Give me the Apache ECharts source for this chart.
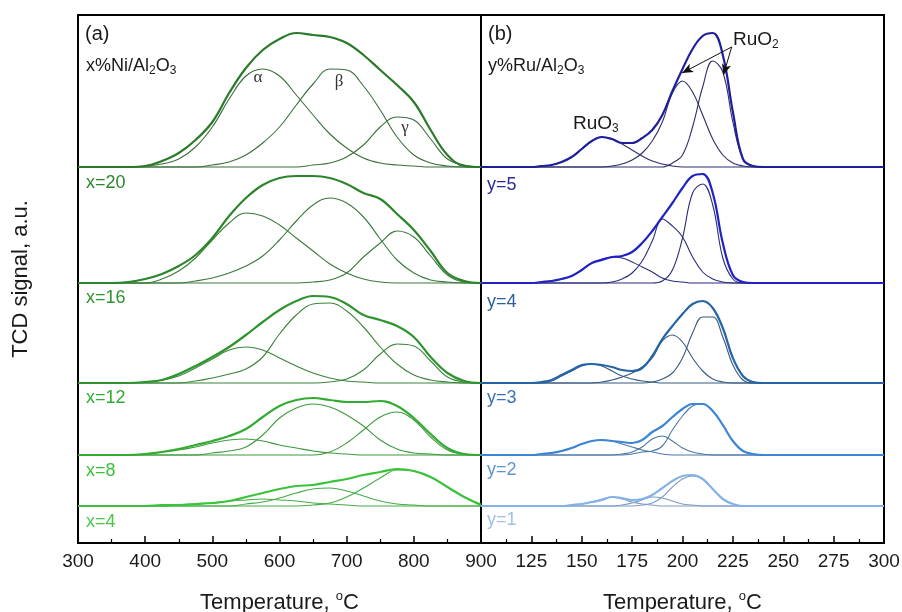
<!DOCTYPE html>
<html>
<head>
<meta charset="utf-8">
<script src="https://cdn.jsdelivr.net/npm/echarts@6/dist/echarts.min.js"></script>
<style>
  html, body { margin: 0; padding: 0; background: #fff; }
  #chart { width: 902px; height: 612px; }
</style>
</head>
<body>
<div id="chart"></div>
<script>
// ---- Temperature grids (°C) on which the TPR traces are tabulated ----
const niTemps = [300, 325, 350, 375, 400, 425, 450, 475, 500, 525, 550, 575, 600, 625, 650, 675, 700, 725, 750, 775, 800, 825, 850, 875, 900];
const ruTemps = [100, 120, 125, 130, 135, 140, 145, 150, 155, 160, 165, 170, 175, 180, 185, 190, 195, 200, 205, 210, 215, 220, 225, 230, 235, 240, 245, 300];

// ---- (a) Ni/Al2O3: measured TCD trace and the alpha / beta / gamma fit peaks (a.u.) ----
const niTopEnv   = [0, 0, 0, 0, 1, 6, 14, 27, 45, 74, 99, 117, 128, 134, 132, 130, 124, 112, 97, 82, 65, 37, 12, 1, 0];
const niTopAlpha = [0, 0, 0, 0, 1, 3, 8, 20, 40, 68, 91, 98, 91, 72, 52, 33, 19, 9, 4, 2, 1, 0, 0, 0, 0];
const niTopBeta  = [0, 0, 0, 0, 0, 0, 0, 0, 2, 5, 12, 24, 40, 62, 83, 98, 97, 81, 57, 30, 12, 4, 1, 0, 0];
const niTopGamma = [0, 0, 0, 0, 0, 0, 0, 0, 0, 0, 0, 0, 0, 0, 2, 4, 10, 22, 40, 50, 47, 28, 8, 2, 0];

const ni20Env   = [0, 0, 0, 1, 4, 9, 17, 28, 45, 67, 85, 98, 105, 107, 107, 105, 99, 90, 84, 69, 53, 32, 10, 2, 0];
const ni20Alpha = [0, 0, 0, 0, 0, 4, 12, 25, 43, 60, 70, 67, 58, 45, 32, 19, 10, 4, 1, 0, 0, 0, 0, 0, 0];
const ni20Beta  = [0, 0, 0, 0, 0, 0, 0, 2, 5, 10, 17, 27, 43, 62, 78, 85, 80, 66, 44, 23, 10, 3, 1, 0, 0];
const ni20Gamma = [0, 0, 0, 0, 0, 0, 0, 0, 0, 0, 0, 0, 0, 0, 1, 3, 10, 26, 40, 52, 46, 27, 8, 1, 0];

const ni16Env   = [0, 0, 0, 0, 1, 3, 9, 17, 26, 36, 48, 61, 73, 82, 87, 86, 79, 68, 63, 57, 46, 26, 10, 2, 0];
const ni16Alpha = [0, 0, 0, 0, 1, 3, 7, 15, 24, 33, 36, 33, 25, 17, 10, 5, 2, 1, 0, 0, 0, 0, 0, 0, 0];
const ni16Beta  = [0, 0, 0, 0, 0, 0, 0, 2, 5, 9, 14, 26, 49, 68, 79, 80, 72, 56, 36, 19, 8, 3, 1, 0, 0];
const ni16Gamma = [0, 0, 0, 0, 0, 0, 0, 0, 0, 0, 0, 0, 0, 0, 0, 1, 4, 13, 29, 39, 37, 22, 6, 1, 0];

const ni12Env   = [0, 0, 0, 0, 1, 3, 6, 10, 14, 19, 26, 38, 49, 55, 57, 55, 53, 53, 54, 49, 37, 21, 7, 1, 0];
const ni12Alpha = [0, 0, 0, 0, 1, 3, 5, 8, 12, 15, 16, 14, 10, 7, 4, 2, 1, 0, 0, 0, 0, 0, 0, 0, 0];
const ni12Beta  = [0, 0, 0, 0, 0, 0, 0, 0, 2, 4, 8, 20, 37, 47, 51, 48, 40, 29, 15, 6, 2, 1, 0, 0, 0];
const ni12Gamma = [0, 0, 0, 0, 0, 0, 0, 0, 0, 0, 0, 0, 0, 0, 0, 3, 12, 25, 38, 43, 35, 18, 5, 1, 0];

const ni8Env   = [0, 0, 0, 0, 0, 1, 1, 2, 3, 5, 9, 13, 17, 20, 21, 24, 27, 31, 34, 37, 35, 29, 19, 9, 1];
const ni8Alpha = [0, 0, 0, 0, 0, 0, 1, 2, 3, 5, 6, 7, 6, 5, 3, 2, 1, 0, 0, 0, 0, 0, 0, 0, 0];
const ni8Beta  = [0, 0, 0, 0, 0, 0, 0, 0, 0, 0, 2, 4, 8, 13, 17, 18, 15, 10, 5, 2, 1, 0, 0, 0, 0];
const ni8Gamma = [0, 0, 0, 0, 0, 0, 0, 0, 0, 0, 0, 0, 0, 0, 1, 3, 9, 18, 28, 36, 35, 29, 19, 9, 2];

// ---- (b) Ru/Al2O3: measured TCD trace, RuO3 peak and the two RuO2 peaks (a.u.) ----
const ruTopEnv   = [0, 0, 0, 1, 2, 5, 10, 18, 26, 30, 28, 24, 24, 29, 37, 52, 76, 98, 118, 131, 134, 112, 55, 8, 1, 0, 0, 0];
const ruTopRuO3  = [0, 0, 0, 1, 2, 5, 10, 18, 26, 30, 28, 23, 17, 11, 6, 3, 1, 0, 0, 0, 0, 0, 0, 0, 0, 0, 0, 0];
const ruTopRuO2a = [0, 0, 0, 0, 0, 0, 0, 0, 0, 0, 1, 3, 7, 14, 26, 45, 74, 86, 75, 52, 28, 12, 4, 1, 0, 0, 0, 0];
const ruTopRuO2b = [0, 0, 0, 0, 0, 0, 0, 0, 0, 0, 0, 0, 0, 0, 0, 0, 4, 12, 40, 80, 106, 95, 45, 8, 1, 0, 0, 0];

const ru5Env   = [0, 0, 0, 1, 2, 4, 7, 13, 20, 23, 26, 27, 31, 40, 52, 66, 80, 95, 107, 109, 90, 40, 8, 1, 0, 0, 0, 0];
const ru5RuO3  = [0, 0, 0, 1, 2, 4, 7, 13, 20, 24, 26, 25, 21, 16, 11, 5, 2, 1, 0, 0, 0, 0, 0, 0, 0, 0, 0, 0];
const ru5RuO2a = [0, 0, 0, 0, 0, 0, 0, 0, 0, 0, 1, 4, 10, 22, 42, 64, 57, 46, 26, 11, 4, 1, 0, 0, 0, 0, 0, 0];
const ru5RuO2b = [0, 0, 0, 0, 0, 0, 0, 0, 0, 0, 0, 0, 0, 0, 0, 2, 13, 45, 90, 99, 78, 25, 4, 0, 0, 0, 0, 0];

const ru4Env   = [0, 0, 0, 1, 3, 8, 13, 18, 19, 18, 16, 13, 12, 15, 27, 44, 57, 69, 79, 82, 75, 55, 25, 7, 1, 0, 0, 0];
const ru4RuO3  = [0, 0, 0, 0, 2, 7, 12, 17, 19, 17, 12, 7, 4, 2, 1, 0, 0, 0, 0, 0, 0, 0, 0, 0, 0, 0, 0, 0];
const ru4RuO2a = [0, 0, 0, 0, 0, 0, 0, 0, 0, 1, 3, 6, 10, 16, 25, 42, 48, 41, 25, 12, 4, 1, 0, 0, 0, 0, 0, 0];
const ru4RuO2b = [0, 0, 0, 0, 0, 0, 0, 0, 0, 0, 0, 0, 0, 0, 1, 4, 10, 25, 50, 66, 66, 46, 18, 3, 0, 0, 0, 0];

const ru3Env   = [0, 0, 0, 1, 2, 4, 7, 11, 14, 15, 14, 13, 12, 15, 23, 29, 38, 46, 51, 51, 44, 30, 14, 4, 1, 0, 0, 0];
const ru3RuO3  = [0, 0, 0, 1, 2, 4, 7, 11, 14, 15, 14, 11, 8, 5, 3, 1, 0, 0, 0, 0, 0, 0, 0, 0, 0, 0, 0, 0];
const ru3RuO2a = [0, 0, 0, 0, 0, 0, 0, 0, 0, 0, 0, 1, 3, 8, 16, 19, 14, 7, 3, 1, 0, 0, 0, 0, 0, 0, 0, 0];
const ru3RuO2b = [0, 0, 0, 0, 0, 0, 0, 0, 0, 0, 0, 0, 1, 3, 4, 9, 25, 39, 49, 51, 44, 30, 14, 4, 1, 0, 0, 0];

const ru2Env   = [0, 0, 0, 0, 0, 0, 1, 2, 4, 6, 9, 8, 6, 7, 11, 18, 25, 30, 31, 27, 17, 7, 2, 0, 0, 0, 0, 0];
const ru2RuO3  = [0, 0, 0, 0, 0, 0, 1, 2, 4, 7, 9, 7, 4, 2, 1, 0, 0, 0, 0, 0, 0, 0, 0, 0, 0, 0, 0, 0];
const ru2RuO2a = [0, 0, 0, 0, 0, 0, 0, 0, 0, 0, 0, 1, 3, 6, 9, 8, 5, 2, 1, 0, 0, 0, 0, 0, 0, 0, 0, 0];
const ru2RuO2b = [0, 0, 0, 0, 0, 0, 0, 0, 0, 0, 0, 0, 0, 1, 3, 9, 19, 27, 30, 27, 17, 7, 2, 0, 0, 0, 0, 0];

// Tick values of the two temperature axes
const niTicks = [300, 400, 500, 600, 700, 800, 900];
const ruTicks = [100, 125, 150, 175, 200, 225, 250, 275, 300];

// ---- Layout: vertical lift of each stacked trace and the signal range of a panel (a.u.) ----
const traceLift = [376, 260, 160, 88, 37];
const signalRange = 528;

// Styles of the stacked traces, top to bottom
const niStyles = [
  { env: '#2a7a2a', fit: '#3b6f3b' },
  { env: '#2b862b', fit: '#3a7a3a' },
  { env: '#2e942e', fit: '#3a853a' },
  { env: '#31ac31', fit: '#3d9a3d' },
  { env: '#3bc23b', fit: '#45ad45' }
];
const ruStyles = [
  { env: '#1f1f9c', fit: '#2e2e6c' },
  { env: '#2222c2', fit: '#2b2b7c' },
  { env: '#2464a8', fit: '#365a82' },
  { env: '#3b86d6', fit: '#4c78a6' },
  { env: '#84b2e6', fit: '#7e9cc6' }
];

const niTraces = [
  [niTopEnv, niTopAlpha, niTopBeta, niTopGamma],
  [ni20Env, ni20Alpha, ni20Beta, ni20Gamma],
  [ni16Env, ni16Alpha, ni16Beta, ni16Gamma],
  [ni12Env, ni12Alpha, ni12Beta, ni12Gamma],
  [ni8Env, ni8Alpha, ni8Beta, ni8Gamma]
];
const ruTraces = [
  [ruTopEnv, ruTopRuO3, ruTopRuO2a, ruTopRuO2b],
  [ru5Env, ru5RuO3, ru5RuO2a, ru5RuO2b],
  [ru4Env, ru4RuO3, ru4RuO2a, ru4RuO2b],
  [ru3Env, ru3RuO3, ru3RuO2a, ru3RuO2b],
  [ru2Env, ru2RuO3, ru2RuO2a, ru2RuO2b]
];

function stackedSeries(temps, traces, styles, axis) {
  const out = [];
  traces.forEach((parts, k) => {
    const lift = traceLift[k];
    // fitted peaks first, measured trace drawn over them
    for (let j = parts.length - 1; j >= 0; j--) {
      const isEnv = j === 0;
      out.push({
        type: 'line',
        xAxisIndex: axis,
        yAxisIndex: axis,
        data: temps.map((t, i) => [t, lift + parts[j][i]]),
        smooth: 0.4,
        smoothConstraint: false,
        showSymbol: false,
        symbol: 'none',
        silent: true,
        z: isEnv ? 4 : 3,
        lineStyle: { color: isEnv ? styles[k].env : styles[k].fit, width: isEnv ? 2.2 : 1.1 }
      });
    }
  });
  return out;
}

const series = stackedSeries(niTemps, niTraces, niStyles, 0)
  .concat(stackedSeries(ruTemps, ruTraces, ruStyles, 1));

// Arrows pointing at the two RuO2 peaks of the top Ru trace
series.push({
  type: 'line',
  xAxisIndex: 1,
  yAxisIndex: 1,
  data: [],
  silent: true,
  markLine: {
    silent: true,
    symbol: ['none', 'arrow'],
    symbolSize: [7, 11],
    label: { show: false },
    lineStyle: { color: '#111', width: 1, type: 'solid' },
    data: [
      [{ coord: [224.4, 496] }, { coord: [199.8, 470] }],
      [{ coord: [224.4, 496] }, { coord: [220.3, 468] }]
    ]
  }
});

const font = 'Liberation Sans, Arial, sans-serif';
const subRich = {
  sub: { fontSize: 12, fontFamily: font, padding: [10, 0, 0, 0] }
};

function label(x, y, text, color, size) {
  return {
    type: 'text',
    x: x,
    y: y,
    silent: true,
    style: {
      text: text,
      fill: color,
      font: size + 'px ' + font,
      align: 'left',
      verticalAlign: 'middle',
      rich: Object.fromEntries(Object.entries(subRich).map(([k, v]) => [k, Object.assign({ fill: color }, v)]))
    }
  };
}

function greek(x, y, text) {
  return {
    type: 'text', x: x, y: y, silent: true,
    style: { text: text, fill: '#333', font: '17px Liberation Serif, serif', align: 'center', verticalAlign: 'middle' }
  };
}

const graphics = [
  label(85, 34, '(a)', '#1a1a1a', 20),
  label(86, 66, 'x%Ni/Al{sub|2}O{sub|3}', '#1a1a1a', 18),
  label(488, 34, '(b)', '#1a1a1a', 20),
  label(488, 66, 'y%Ru/Al{sub|2}O{sub|3}', '#1a1a1a', 18),

  label(86, 183, 'x=20', '#2b862b', 18),
  label(86, 298, 'x=16', '#2e942e', 18),
  label(86, 398, 'x=12', '#31ac31', 18),
  label(86, 471, 'x=8', '#3bc23b', 18),
  label(86, 522, 'x=4', '#48c848', 18),

  label(487, 185, 'y=5', '#2a2a98', 18),
  label(487, 302, 'y=4', '#2c5e9c', 18),
  label(487, 398, 'y=3', '#3a72b6', 18),
  label(487, 470, 'y=2', '#5c94d4', 18),
  label(487, 520, 'y=1', '#a2c0e6', 18),

  greek(258, 78, 'α'),
  greek(339, 82, 'β'),
  greek(405, 128, 'γ'),

  label(573, 124, 'RuO{sub|3}', '#1a1a1a', 19),
  label(733, 40, 'RuO{sub|2}', '#1a1a1a', 19)
];

function tempAxis(grid, min, max, interval, hideFirst) {
  return {
    gridIndex: grid,
    type: 'value',
    min: min,
    max: max,
    interval: interval,
    axisLine: { show: true, lineStyle: { color: '#000', width: 2 } },
    axisTick: { show: true, inside: true, length: 7, lineStyle: { color: '#000', width: 1.5 } },
    minorTick: { show: true, splitNumber: 2, length: 4, lineStyle: { color: '#000', width: 1.2 } },
    splitLine: { show: false },
    axisLabel: {
      color: '#1a1a1a', fontSize: 19, fontFamily: font, margin: 9,
      formatter: v => (hideFirst && v === min) ? '' : String(v)
    },
    name: 'Temperature, {o|o}C',
    nameLocation: 'middle',
    nameGap: 47,
    nameTextStyle: {
      color: '#1a1a1a', fontSize: 22, fontFamily: font,
      rich: { o: { fontSize: 13, fontFamily: font, color: '#1a1a1a', padding: [0, 0, 12, 0] } }
    }
  };
}

const gridBase = {
  top: 15, width: 403, height: 528,
  show: true, borderColor: '#000', borderWidth: 2, backgroundColor: 'transparent',
  containLabel: false, outerBoundsMode: 'none'
};

const chart = echarts.init(document.getElementById('chart'), null, { renderer: 'canvas' });
chart.setOption({
  animation: false,
  backgroundColor: '#fff',
  grid: [
    Object.assign({ left: 78 }, gridBase),
    Object.assign({ left: 481 }, gridBase)
  ],
  xAxis: [
    tempAxis(0, niTicks[0], niTicks[niTicks.length - 1], niTicks[1] - niTicks[0], false),
    tempAxis(1, ruTicks[0], ruTicks[ruTicks.length - 1], ruTicks[1] - ruTicks[0], true)
  ],
  yAxis: [
    {
      gridIndex: 0, type: 'value', min: 0, max: signalRange,
      axisLine: { show: false }, axisTick: { show: false }, axisLabel: { show: false }, splitLine: { show: false },
      name: 'TCD signal, a.u.', nameLocation: 'middle', nameRotate: 90, nameGap: 46,
      nameTextStyle: { color: '#1a1a1a', fontSize: 22, fontFamily: font }
    },
    {
      gridIndex: 1, type: 'value', min: 0, max: signalRange, show: false
    }
  ],
  series: series,
  graphic: graphics
});
</script>
</body>
</html>
